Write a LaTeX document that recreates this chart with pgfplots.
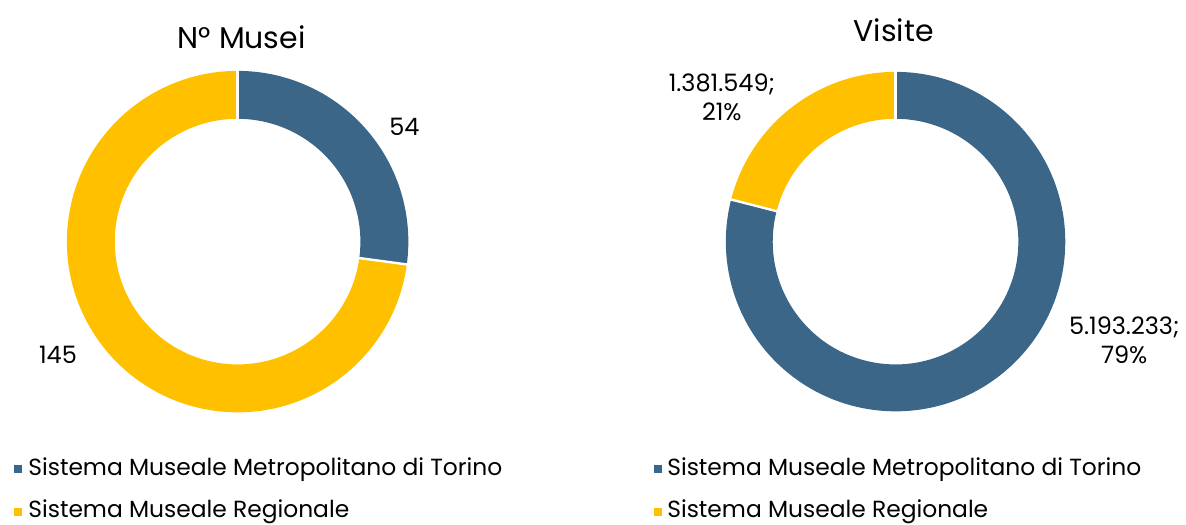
\documentclass[border=0pt]{standalone}
\usepackage{pgfplots}
\pgfplotsset{compat=1.18}
\usepackage{fontspec}
\setmainfont{Poppins}
\definecolor{cblue}{HTML}{3B6687}
\definecolor{cyel}{HTML}{FFC000}
% data
\def\musA{54}\def\musB{145}
\def\visA{5193233}\def\visB{1381549}
\newcommand{\sector}[7]{% color, cx, cy, a1, a2, R, r
  \fill[#1] ([shift={(#4:#6)}]axis cs:#2,#3) arc[start angle=#4, end angle=#5, radius=#6]
    -- ([shift={(#5:#7)}]axis cs:#2,#3) arc[start angle=#5, end angle=#4, radius=#7] -- cycle;}
\newcommand{\sep}[5]{% cx cy a R r
  \draw[white, line width=1.2pt] ([shift={(#3:#5-1pt)}]axis cs:#1,#2) -- ([shift={(#3:#4+1pt)}]axis cs:#1,#2);}
\edef\aA{\fpeval{round(90-360*\musA/(\musA+\musB),3)}}
\edef\bA{\fpeval{round(90-360*\visA/(\visA+\visB),3)}}
\begin{document}
\begin{tikzpicture}
\begin{axis}[scale only axis, width=593pt, height=262.5pt,
  xmin=0, xmax=1186, ymin=0, ymax=525, y dir=reverse,
  hide axis, clip=false]
\path (axis cs:0,0) (axis cs:1186,525);
% left donut
\sector{cblue}{238}{242}{90}{\aA}{85.5pt}{61.5pt}
\sector{cyel}{238}{242}{\aA}{-270}{85.5pt}{61.5pt}
\sep{238}{242}{90}{85.5pt}{61.5pt}
\sep{238}{242}{\aA}{85.5pt}{61.5pt}
% right donut
\sector{cblue}{897}{242}{90}{\bA}{85pt}{61.5pt}
\sector{cyel}{897}{242}{\bA}{-270}{85pt}{61.5pt}
\sep{897}{242}{90}{85pt}{61.5pt}
\sep{897}{242}{\bA}{85pt}{61.5pt}
% titles
\node[font=\fontsize{15}{18}\selectfont] at (axis cs:242,37) {N° Musei};
\node[font=\fontsize{15}{18}\selectfont] at (axis cs:895,30) {Visite};
% data labels
\node[font=\fontsize{12}{14.5}\selectfont] at (axis cs:405,127) {54};
\node[font=\fontsize{12}{14.5}\selectfont] at (axis cs:58,355) {145};
\node[font=\fontsize{12}{14.5}\selectfont, align=center] at (axis cs:723,97) {1.381.549;\\21\%};
\node[font=\fontsize{12}{14.5}\selectfont, align=center] at (axis cs:1126,341) {5.193.233;\\79\%};
% legends
\fill[cblue] (axis cs:14,466) rectangle (axis cs:22,474);
\fill[cyel] (axis cs:14,509) rectangle (axis cs:22,517);
\fill[cblue] (axis cs:655,466) rectangle (axis cs:663,474);
\fill[cyel] (axis cs:655,509) rectangle (axis cs:663,517);
\node[anchor=west, inner sep=0, font=\fontsize{11.7}{13}\selectfont] at (axis cs:28,470) {Sistema Museale Metropolitano di Torino};
\node[anchor=west, inner sep=0, font=\fontsize{11.7}{13}\selectfont] at (axis cs:28,513) {Sistema Museale Regionale};
\node[anchor=west, inner sep=0, font=\fontsize{11.7}{13}\selectfont] at (axis cs:668,470) {Sistema Museale Metropolitano di Torino};
\node[anchor=west, inner sep=0, font=\fontsize{11.7}{13}\selectfont] at (axis cs:668,513) {Sistema Museale Regionale};
\end{axis}
\end{tikzpicture}
\end{document}
